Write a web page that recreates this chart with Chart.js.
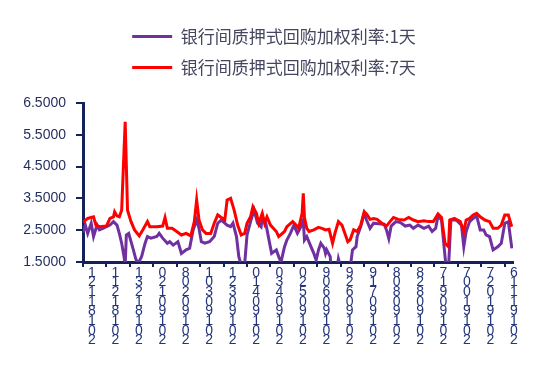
<!DOCTYPE html>
<html>
<head>
<meta charset="utf-8">
<script src="https://cdn.jsdelivr.net/npm/chart.js@4.4.1/dist/chart.umd.min.js"></script>
<style>
  html, body { margin: 0; padding: 0; background: #fff; }
  #wrap { width: 548px; height: 367px; }
</style>
</head>
<body>
<div id="wrap"><canvas id="rateChart"></canvas></div>
<script>
// x 轴：自 2018-11-21 起的天数
const tickDays = [0, 20, 40, 60, 80, 100, 120, 140, 160, 180, 200, 220, 240, 260, 280, 300, 320, 340, 360];
const tickDates = ['2018-11-21', '2018-12-11', '2018-12-31', '2019-01-20', '2019-02-08', '2019-03-01',
    '2019-03-21', '2019-04-10', '2019-04-30', '2019-05-20', '2019-06-09', '2019-06-29', '2019-07-19',
    '2019-08-08', '2019-08-28', '2019-09-17', '2019-10-07', '2019-10-27', '2019-11-16'];

// 1天
const days1d = [0, 2, 4, 7, 9, 12, 14, 17, 20, 23, 26, 29, 31, 33, 35, 36, 37, 39, 43, 45, 47, 50, 53, 55, 58,
    63, 65, 68, 72, 74, 77, 81, 84, 88, 91, 94, 97, 99, 101, 104, 108, 112, 115, 118, 121, 123, 126, 128, 131,
    133, 135, 138, 140, 143, 146, 149, 152, 153, 156, 159, 161, 165, 167, 169, 172, 174, 177, 180, 183, 186,
    188, 189, 191, 194, 197, 199, 201, 203, 206, 207, 208, 211, 212, 216, 218, 221, 225, 228, 230, 233, 234,
    237, 240, 242, 245, 248, 252, 257, 259, 261, 263, 267, 271, 275, 279, 282, 286, 291, 295, 298, 301, 303,
    306, 309, 310, 312, 314, 318, 320, 323, 325, 327, 330, 333, 336, 339, 342, 344, 347, 350, 354, 357, 360,
    363, 366];
const rate1d = [2.43, 2.66, 2.40, 2.72, 2.30, 2.66, 2.51, 2.56, 2.61, 2.66, 2.77, 2.66, 2.40, 2.09, 1.67, 1.40,
    2.35, 2.40, 1.88, 1.60, 1.45, 1.67, 2.09, 2.30, 2.25, 2.30, 2.40, 2.25, 2.09, 2.14, 2.03, 2.14, 1.77, 1.88,
    1.93, 2.51, 2.82, 2.56, 2.14, 2.09, 2.14, 2.30, 2.72, 2.82, 2.72, 2.66, 2.61, 2.72, 2.30, 1.67, 1.40, 1.45,
    2.35, 2.77, 3.13, 2.72, 2.61, 2.87, 2.72, 2.14, 1.77, 1.88, 1.67, 1.50, 1.98, 2.19, 2.40, 2.66, 2.40, 2.61,
    2.82, 2.19, 2.30, 2.03, 1.77, 1.56, 1.88, 2.09, 1.93, 1.77, 1.88, 1.67, 1.20, 1.10, 1.60, 1.20, 1.10, 1.30,
    1.88, 1.98, 2.30, 2.61, 3.03, 2.82, 2.56, 2.72, 2.70, 2.69, 2.51, 2.24, 2.63, 2.77, 2.74, 2.63, 2.66, 2.56,
    2.66, 2.56, 2.63, 2.46, 2.56, 2.95, 2.82, 1.67, 1.30, 1.35, 2.82, 2.82, 2.77, 2.66, 1.98, 2.46, 2.77, 2.87,
    2.95, 2.51, 2.51, 2.35, 2.30, 1.88, 1.98, 2.09, 2.72, 2.77, 1.93];

// 7天
const days7d = [0, 4, 9, 11, 14, 20, 23, 26, 27, 29, 31, 33, 36, 38, 41, 44, 48, 51, 55, 57, 63, 68, 70, 72, 76,
    80, 84, 88, 92, 95, 97, 99, 102, 105, 109, 112, 115, 118, 121, 123, 126, 129, 132, 135, 138, 140, 143, 145,
    148, 150, 153, 155, 157, 160, 165, 167, 172, 174, 179, 182, 184, 187, 188, 189, 191, 193, 197, 201, 204,
    207, 210, 213, 215, 218, 221, 224, 226, 228, 231, 234, 237, 240, 242, 245, 248, 251, 255, 259, 262, 265,
    269, 274, 278, 282, 286, 291, 295, 299, 303, 306, 309, 312, 313, 317, 322, 325, 327, 330, 333, 336, 339,
    343, 347, 350, 354, 357, 360, 363, 366];
const rate7d = [2.75, 2.87, 2.92, 2.66, 2.61, 2.63, 2.87, 2.92, 3.08, 2.95, 2.92, 3.13, 5.91, 3.13, 2.77, 2.51,
    2.32, 2.51, 2.77, 2.61, 2.61, 2.63, 2.90, 2.56, 2.56, 2.46, 2.35, 2.40, 2.32, 2.77, 3.45, 2.82, 2.51, 2.40,
    2.40, 2.72, 2.98, 2.90, 2.82, 3.45, 3.50, 3.13, 2.66, 2.35, 2.40, 2.72, 2.92, 3.24, 3.03, 2.72, 3.03, 2.72,
    2.92, 2.66, 2.46, 2.30, 2.46, 2.61, 2.77, 2.66, 2.56, 3.03, 3.66, 2.90, 2.56, 2.46, 2.51, 2.59, 2.56, 2.51,
    2.53, 2.09, 2.40, 2.77, 2.66, 2.35, 2.14, 2.20, 2.51, 2.46, 2.66, 3.08, 3.01, 2.84, 2.87, 2.84, 2.72, 2.63,
    2.77, 2.90, 2.84, 2.82, 2.90, 2.82, 2.77, 2.80, 2.77, 2.77, 3.01, 2.90, 2.09, 1.98, 2.82, 2.87, 2.77, 2.46,
    2.82, 2.87, 2.98, 3.03, 2.92, 2.82, 2.77, 2.56, 2.56, 2.66, 2.98, 2.98, 2.61];

const axisColor = '#14215A';
const labelColor = '#1F2D5A';

// 日期竖排（逐字倒序，与原图一致）
function stackedLabel(dateStr) {
    return dateStr.replace(/-/g, '').split('').reverse();
}

// 图例与绘图区之间留出空白
const legendGap = {
    id: 'legendGap',
    beforeInit(chart) {
        const fit = chart.legend.fit;
        chart.legend.fit = function () {
            fit.call(this);
            this.height += 17;
        };
    }
};

const ctx = document.getElementById('rateChart').getContext('2d');
new Chart(ctx, {
    type: 'line',
    data: {
        datasets: [{
            label: '银行间质押式回购加权利率:1天',
            data: days1d.map((d, i) => ({ x: d, y: rate1d[i] })),
            borderColor: '#7030A0',
            backgroundColor: '#7030A0',
            borderWidth: 3,
            pointRadius: 0,
            tension: 0,
            order: 1
        }, {
            label: '银行间质押式回购加权利率:7天',
            data: days7d.map((d, i) => ({ x: d, y: rate7d[i] })),
            borderColor: '#FF0000',
            backgroundColor: '#FF0000',
            borderWidth: 3,
            pointRadius: 0,
            tension: 0,
            order: 0
        }]
    },
    plugins: [legendGap],
    options: {
        responsive: true,
        maintainAspectRatio: false,
        animation: false,
        devicePixelRatio: 1,
        layout: { padding: { left: 0, right: 0, top: 14, bottom: 0 } },
        plugins: {
            tooltip: { enabled: false },
            legend: {
                position: 'top',
                labels: {
                    usePointStyle: true,
                    pointStyle: 'line',
                    pointStyleWidth: 40,
                    padding: 14,
                    color: '#44465E',
                    font: { family: '"Noto Sans CJK SC", "Noto Sans"', size: 17 },
                    sort: (a, b) => a.datasetIndex - b.datasetIndex
                }
            }
        },
        scales: {
            x: {
                type: 'linear',
                min: 0,
                max: 367,
                afterBuildTicks: axis => { axis.ticks = tickDays.map(v => ({ value: v })); },
                afterFit: scale => { scale.height = 105; },
                ticks: {
                    autoSkip: false,
                    maxRotation: 0,
                    minRotation: 0,
                    labelOffset: 9,
                    padding: 1,
                    color: '#24357A',
                    font: { family: '"Liberation Sans"', size: 14, lineHeight: 0.69 },
                    callback: (value, index) => stackedLabel(tickDates[index])
                },
                grid: { drawOnChartArea: false, drawTicks: true, tickLength: 5, color: axisColor, lineWidth: 2 },
                border: { color: axisColor, width: 3 }
            },
            y: {
                min: 1.5,
                max: 6.5,
                afterFit: scale => { scale.width = 83; },
                ticks: {
                    stepSize: 1,
                    padding: 10,
                    color: labelColor,
                    font: { family: '"Liberation Sans"', size: 14 },
                    callback: value => value.toFixed(4)
                },
                grid: { drawOnChartArea: false, drawTicks: true, tickLength: 7, color: axisColor, lineWidth: 2 },
                border: { color: axisColor, width: 3 }
            },
            // 右侧留白
            yPad: {
                position: 'right',
                display: true,
                afterFit: scale => { scale.width = 35; },
                ticks: { display: false },
                grid: { display: false },
                border: { display: false }
            }
        }
    }
});
</script>
</body>
</html>
